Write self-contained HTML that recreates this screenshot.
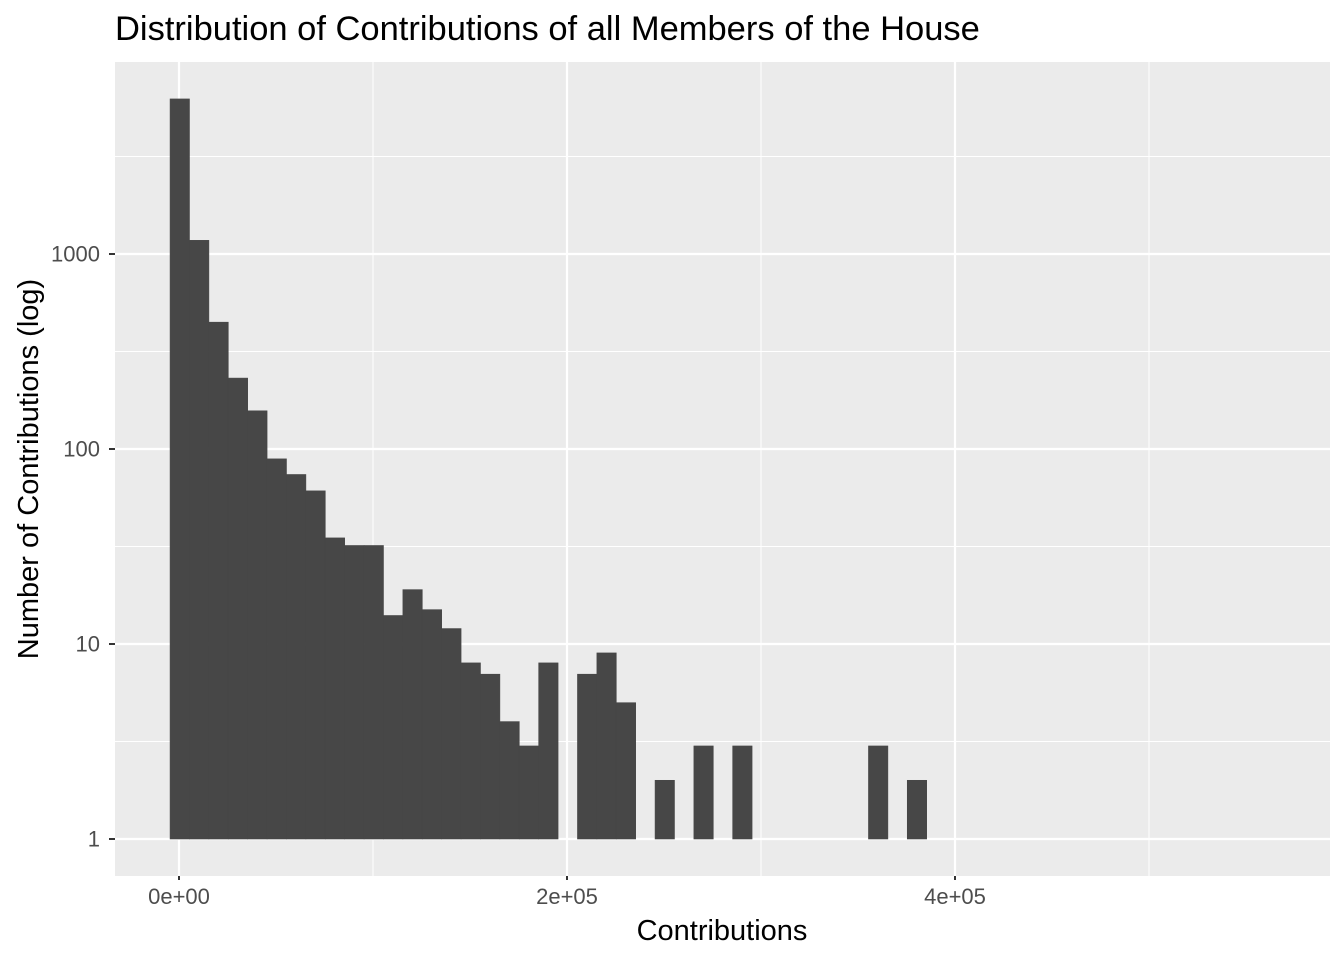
<!DOCTYPE html>
<html><head><meta charset="utf-8"><style>
body{margin:0;background:#fff;}
svg text{font-family:"Liberation Sans",Arial,sans-serif;}
</style></head><body>
<svg id="chart" width="1344" height="960" xmlns="http://www.w3.org/2000/svg">
<text x="115" y="40" font-size="34.5" fill="#000">Distribution of Contributions of all Members of the House</text>
<rect x="115" y="62" width="1215" height="814" fill="#ebebeb"/>
<g id="grid"></g>
<g id="bars"></g>
<g id="axes"></g>
<text x="722" y="940" font-size="29" text-anchor="middle" fill="#000">Contributions</text>
<text transform="translate(38,469) rotate(-90)" font-size="29" text-anchor="middle" fill="#000">Number of Contributions (log)</text>
</svg>
<script>
const binStarts = [0,10000,20000,30000,40000,50000,60000,70000,80000,90000,100000,110000,120000,130000,140000,150000,160000,170000,180000,190000,210000,220000,230000,250000,270000,290000,360000,380000];
const counts = [6240,1175,447,231,157,89,74,61,35,32,32,14,19,15,12,8,7,4,3,8,7,9,5,2,3,3,3,2];
const xTicks = [0,200000,400000];
const xTickLabels = ["0e+00","2e+05","4e+05"];
const xMinor = [100000,300000,500000];
const yTicks = [1,10,100,1000];
const yTickLabels = ["1","10","100","1000"];
const yMinor = [Math.sqrt(10),Math.sqrt(1000),Math.sqrt(100000),Math.sqrt(1e7)];

const binWidth = 10000, binOffset = -4600;
const x = v => 179 + v * 1.94 / 1000;
const y = v => 839 - Math.log10(v) * 195;
const NS = "http://www.w3.org/2000/svg";
function mk(tag, attrs, parent){const e=document.createElementNS(NS,tag);for(const k in attrs)e.setAttribute(k,attrs[k]);document.getElementById(parent).appendChild(e);return e;}

xMinor.forEach(v=>{const e=mk("line",{x1:x(v),x2:x(v),y1:62,y2:876,stroke:"#fff","stroke-width":1},"grid");

});
yMinor.forEach(v=>{const e=mk("line",{x1:115,x2:1330,y1:y(v),y2:y(v),stroke:"#fff","stroke-width":1},"grid");

});
xTicks.forEach((v,i)=>{const e=mk("line",{x1:x(v),x2:x(v),y1:62,y2:876,stroke:"#fff","stroke-width":2.2},"grid");


const t=mk("line",{x1:x(v),x2:x(v),y1:876,y2:880,stroke:"#333","stroke-width":2},"axes");


const l=mk("text",{x:x(v),y:904,"font-size":22,"text-anchor":"middle",fill:"#4d4d4d"},"axes");
l.textContent=xTickLabels[i];

});
yTicks.forEach((v,i)=>{const e=mk("line",{x1:115,x2:1330,y1:y(v),y2:y(v),stroke:"#fff","stroke-width":2.2},"grid");


const t=mk("line",{x1:109,x2:115,y1:y(v),y2:y(v),stroke:"#333","stroke-width":2},"axes");


const l=mk("text",{x:100,y:y(v)+7.5,"font-size":22,"text-anchor":"end",fill:"#4d4d4d"},"axes");
l.textContent=yTickLabels[i];

});
binStarts.forEach((b,i)=>{const x0=x(b+binOffset),x1=x(b+binOffset+binWidth);
const r=mk("rect",{x:x0,y:y(counts[i]),width:x1-x0,height:y(1)-y(counts[i]),fill:"#474747",stroke:"#474747","stroke-width":0.6},"bars");

});
</script>
</body></html>
